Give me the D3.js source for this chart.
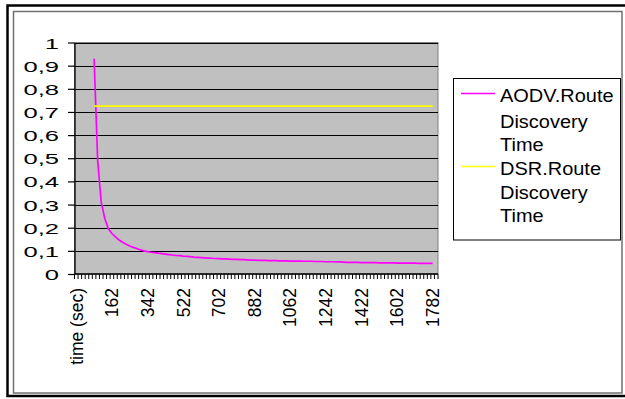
<!DOCTYPE html>
<html>
<head>
<meta charset="utf-8">
<script src="https://cdn.jsdelivr.net/npm/d3@7"></script>
<style>
html,body{margin:0;padding:0;background:#fff;}
svg{display:block;}
text{font-family:"Liberation Sans",Arial,sans-serif;fill:#000;}
</style>
</head>
<body>
<svg id="chart" width="625" height="399"></svg>
<script>
// ---- data ----
const firstCategory = "time (sec)";
const times = [
0,18,36,54,72,90,108,126,144,162,
180,198,216,234,252,270,288,306,324,342,
360,378,396,414,432,450,468,486,504,522,
540,558,576,594,612,630,648,666,684,702,
720,738,756,774,792,810,828,846,864,882,
900,918,936,954,972,990,1008,1026,1044,1062,
1080,1098,1116,1134,1152,1170,1188,1206,1224,1242,
1260,1278,1296,1314,1332,1350,1368,1386,1404,1422,
1440,1458,1476,1494,1512,1530,1548,1566,1584,1602,
1620,1638,1656,1674,1692,1710,1728,1746,1764,1782,
1800];
const aodv = [
null,null,null,null,0.93,0.49,0.31,0.24,0.195,0.175,
0.16,0.147,0.137,0.128,0.121,0.115,0.11,0.104,0.1,0.097,
0.094,0.092,0.09,0.088,0.086,0.084,0.082,0.08,0.079,0.077,
0.076,0.075,0.073,0.072,0.071,0.07,0.069,0.068,0.067,0.066,
0.065,0.065,0.064,0.063,0.063,0.062,0.062,0.061,0.06,0.06,
0.059,0.059,0.059,0.058,0.058,0.058,0.057,0.057,0.057,0.056,
0.056,0.056,0.056,0.055,0.055,0.055,0.054,0.054,0.054,0.053,
0.053,0.053,0.052,0.052,0.051,0.05,0.05,0.05,0.05,0.049,
0.049,0.049,0.049,0.049,0.048,0.048,0.048,0.048,0.048,0.047,
0.047,0.047,0.047,0.047,0.047,0.046,0.046,0.046,0.046,0.046,
null];
const dsr = [
null,null,null,null,0.725,0.725,0.725,0.725,0.725,0.725,
0.725,0.725,0.725,0.725,0.725,0.725,0.725,0.725,0.725,0.725,
0.725,0.725,0.725,0.725,0.725,0.725,0.725,0.725,0.725,0.725,
0.725,0.725,0.725,0.725,0.725,0.725,0.725,0.725,0.725,0.725,
0.725,0.725,0.725,0.725,0.725,0.725,0.725,0.725,0.725,0.725,
0.725,0.725,0.725,0.725,0.725,0.725,0.725,0.725,0.725,0.725,
0.725,0.725,0.725,0.725,0.725,0.725,0.725,0.725,0.725,0.725,
0.725,0.725,0.725,0.725,0.725,0.725,0.725,0.725,0.725,0.725,
0.725,0.725,0.725,0.725,0.725,0.725,0.725,0.725,0.725,0.725,
0.725,0.725,0.725,0.725,0.725,0.725,0.725,0.725,0.725,0.725,
null];
const xTickLabels = ["time (sec)","162","342","522","702","882","1062","1242","1422","1602","1782"];
const yTicks = [0,0.1,0.2,0.3,0.4,0.5,0.6,0.7,0.8,0.9,1];
const yTickLabels = ["0","0,1","0,2","0,3","0,4","0,5","0,6","0,7","0,8","0,9","1"];
const seriesNames = [["AODV.Route","Discovery","Time"],["DSR.Route","Discovery","Time"]];
const seriesColors = ["#ff00ff","#ffff00"];

// ---- chart ----
const svg = d3.select("#chart");
const categories = [firstCategory].concat(times.map(String));
const pLeft = 74.5, pRight = 438, pTop = 42.5, pBottom = 274;
const x = d3.scaleBand().domain(categories).range([pLeft, pRight]).padding(0);
const y = d3.scaleLinear().domain([0, 1]).range([pBottom, pTop]);

// frames
svg.append("rect").attr("x",7.5).attr("y",5.5).attr("width",640).attr("height",390.5)
  .attr("fill","none").attr("stroke","#000").attr("stroke-width",2.5);
svg.append("rect").attr("x",13.5).attr("y",11.5).attr("width",608.5).attr("height",381.5)
  .attr("fill","none").attr("stroke","#707070").attr("stroke-width",1.5);

// plot area
svg.append("rect").attr("x",pLeft).attr("y",pTop).attr("width",pRight-pLeft).attr("height",pBottom-pTop)
  .attr("fill","#c0c0c0").attr("stroke","#808080").attr("stroke-width",1);

// gridlines
svg.append("g").selectAll("line").data(yTicks.slice(1)).join("line")
  .attr("x1",pLeft).attr("x2",pRight)
  .attr("y1",d=>Math.round(y(d))+0.5).attr("y2",d=>Math.round(y(d))+0.5)
  .attr("stroke","#000").attr("stroke-width",1.2);

// y axis
const yAxis = svg.append("g").attr("transform",`translate(${pLeft},0)`)
  .call(d3.axisLeft(y).tickValues(yTicks).tickSize(6.5).tickSizeOuter(0)
    .tickFormat((d,i)=>yTickLabels[i]));
yAxis.select(".domain").attr("stroke","#000").attr("stroke-width",1.3);
yAxis.selectAll(".tick line").attr("stroke","#000").attr("stroke-width",1.2);
yAxis.selectAll(".tick text").attr("x",0).attr("dy","0.36em")
  .attr("transform","translate(-15.5,0) scale(1.65,1)")
  .style("font-size","15.5px").attr("fill","#1a1a1a").style("font-family","'Liberation Sans',Arial,sans-serif");

// x axis line and ticks (between categories)
svg.append("line").attr("x1",pLeft).attr("x2",pRight).attr("y1",pBottom).attr("y2",pBottom)
  .attr("stroke","#000").attr("stroke-width",1.3);
const boundaries = categories.map(c=>x(c)).concat([pRight]);
svg.append("g").selectAll("line").data(boundaries).join("line")
  .attr("x1",d=>d).attr("x2",d=>d).attr("y1",pBottom).attr("y2",pBottom+5)
  .attr("stroke","#000").attr("stroke-width",1);

// x labels
svg.append("g").selectAll("text").data(xTickLabels).join("text")
  .attr("transform",d=>`translate(${x(d)+x.bandwidth()/2},288) rotate(-90)`)
  .attr("text-anchor","end").attr("dy","0.36em")
  .style("font-size","17.5px").text(d=>d);

// lines
const series = [aodv, dsr];
const line = d3.line().defined(d=>d.v!==null)
  .x(d=>x(d.c)+x.bandwidth()/2).y(d=>y(d.v));
series.forEach((vals,si)=>{
  const pts = times.map((t,i)=>({c:String(t), v:vals[i]}));
  svg.append("path").datum(pts).attr("d",line)
    .attr("fill","none").attr("stroke",seriesColors[si]).attr("stroke-width",1.7);
});

// legend
const lg = svg.append("g");
lg.append("rect").attr("x",453.5).attr("y",78.5).attr("width",167).attr("height",161.5)
  .attr("fill","#fff").attr("stroke","#000").attr("stroke-width",1);
const legendSymbolY = [93.5, 166.5];
const legendBaselines = [[101.7,127.5,151],[175,198.5,222]];
seriesNames.forEach((lines,si)=>{
  lg.append("line").attr("x1",461).attr("x2",495).attr("y1",legendSymbolY[si]).attr("y2",legendSymbolY[si])
    .attr("stroke",seriesColors[si]).attr("stroke-width",1.6);
  lines.forEach((t,li)=>{
    lg.append("text").attr("transform",`translate(500,${legendBaselines[si][li]}) scale(1.08,1)`)
      .style("font-size","18.5px").text(t);
  });
});
</script>
</body>
</html>
